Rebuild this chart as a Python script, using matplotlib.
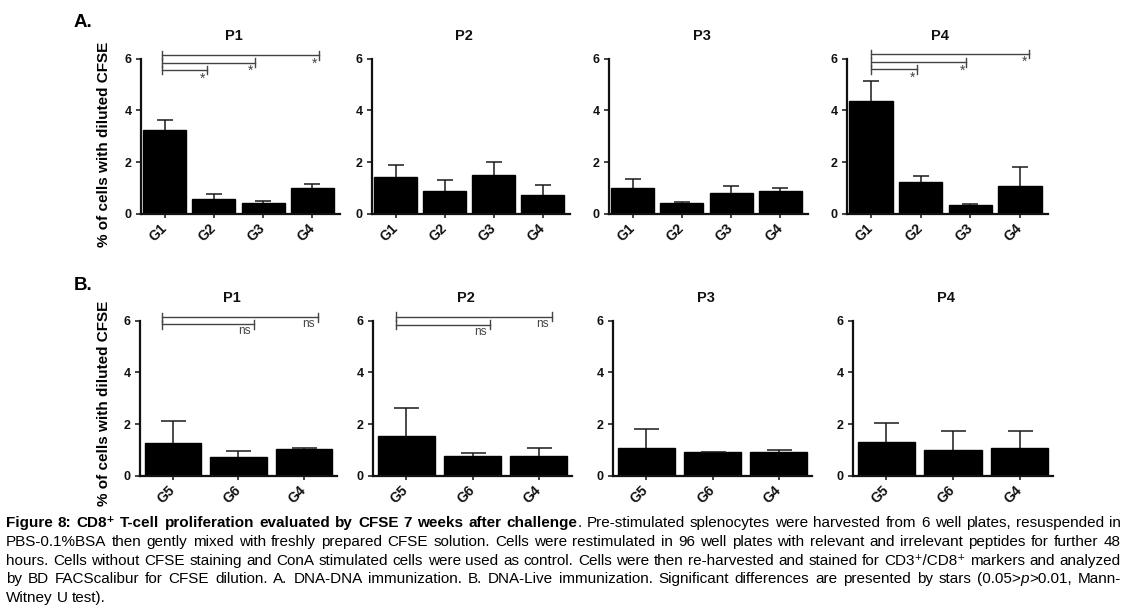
import matplotlib
matplotlib.use("Agg")
import matplotlib.pyplot as plt
from matplotlib import font_manager as fm
from matplotlib.transforms import blended_transform_factory

W, H = 1128, 612

# ---------------- data ----------------
groups_A = ["G1", "G2", "G3", "G4"]
groups_B = ["G5", "G6", "G4"]
panel_titles = ["P1", "P2", "P3", "P4"]

A_P1_mean = [3.24, 0.58, 0.44, 1.02]
A_P1_err = [0.39, 0.20, 0.06, 0.13]
A_P2_mean = [1.44, 0.87, 1.52, 0.72]
A_P2_err = [0.45, 0.46, 0.47, 0.40]
A_P3_mean = [0.99, 0.44, 0.80, 0.88]
A_P3_err = [0.36, 0.03, 0.27, 0.11]
A_P4_mean = [4.37, 1.25, 0.33, 1.09]
A_P4_err = [0.77, 0.21, 0.06, 0.71]

B_P1_mean = [1.26, 0.72, 1.03]
B_P1_err = [0.87, 0.25, 0.07]
B_P2_mean = [1.53, 0.76, 0.76]
B_P2_err = [1.10, 0.14, 0.32]
B_P3_mean = [1.08, 0.92, 0.92]
B_P3_err = [0.72, 0.00, 0.08]
B_P4_mean = [1.31, 1.02, 1.08]
B_P4_err = [0.74, 0.73, 0.67]

y_ticks = [0, 2, 4, 6]
y_label = "% of cells with diluted CFSE"

sig_A_label = "*"
sig_B_label = "ns"

caption_lines = [
    "**Figure 8: CD8\u207a T-cell proliferation evaluated by CFSE 7 weeks after challenge**. Pre-stimulated splenocytes were harvested from 6 well plates, resuspended in",
    "PBS-0.1%BSA then gently mixed with freshly prepared CFSE solution. Cells were restimulated in 96 well plates with relevant and irrelevant peptides for further 48",
    "hours. Cells without CFSE staining and ConA stimulated cells were used as control. Cells were then re-harvested and stained for CD3\u207a/CD8\u207a markers and analyzed",
    "by BD FACScalibur for CFSE dilution. A. DNA-DNA immunization. B. DNA-Live immunization. Significant differences are presented by stars (0.05>_p_>0.01, Mann-",
    "Witney U test).",
]

# ---------------- style ----------------
FONT = ["Liberation Sans", "DejaVu Sans"]
plt.rcParams["font.family"] = FONT


def has_font(name):
    try:
        fm.findfont(fm.FontProperties(family=name), fallback_to_default=False)
        return True
    except Exception:
        return False


CAP_FAMILY = "Liberation Sans Narrow" if has_font("Liberation Sans Narrow") else "Liberation Sans"

fig = plt.figure(figsize=(W / 100, H / 100), dpi=100)

PPU = 25.9
YMAX = 6.35
INK = "#111111"


def make_axes(left_px, width_px, zero_px):
    bottom = (H - zero_px) / H
    height = YMAX * PPU / H
    return fig.add_axes([left_px / W, bottom, width_px / W, height])


def style_axes(ax, groups, xlim, title):
    ax.set_ylim(0, YMAX)
    ax.set_xlim(*xlim)
    for s in ("top", "right"):
        ax.spines[s].set_visible(False)
    for s in ("left", "bottom"):
        ax.spines[s].set_linewidth(1.6)
        ax.spines[s].set_color(INK)
    ax.spines["left"].set_bounds(0, 6)
    ax.set_yticks(y_ticks)
    ax.set_yticklabels([str(t) for t in y_ticks], fontsize=9, fontweight="bold")
    ax.set_xticks(range(len(groups)))
    ax.set_xticklabels(groups, fontsize=10, fontweight="bold", rotation=45,
                       ha="right", va="center", rotation_mode="anchor")
    ax.tick_params(axis="y", direction="out", length=3.5, width=1.1, pad=3, colors=INK)
    ax.tick_params(axis="x", direction="out", length=3.0, width=1.1, pad=6, colors=INK)
    ax.patch.set_alpha(0)
    tr = blended_transform_factory(ax.transAxes, ax.transData)
    ax.text(0.465, 6.87, title, transform=tr, ha="center", va="center",
            fontsize=10.5, fontweight="bold", color=INK, clip_on=False)


def draw_bars(ax, means, errs, width, capsize):
    x = list(range(len(means)))
    ax.bar(x, means, width=width, color="black", edgecolor="black", zorder=2)
    _, caps, _ = ax.errorbar(x, means, yerr=[[0] * len(errs), errs], fmt="none",
                             ecolor="#1a1a1a", elinewidth=1.1, capsize=capsize,
                             capthick=1.1, zorder=3)
    # hide the lower caps (they sit on the bar tops)
    for c in caps:
        yd = list(c.get_ydata())
        if all(abs(a - b) < 1e-9 for a, b in zip(yd, means)):
            c.set_visible(False)


def draw_brackets(ax, left_x, items, label, dx_pt, dy_pt, fs):
    tick = 0.17
    col = "#444444"
    for (x1, y) in items:
        ax.plot([left_x, x1], [y, y], color=col, lw=1.0, clip_on=False, zorder=4)
        ax.plot([left_x, left_x], [y - tick, y + tick], color=col, lw=1.0, clip_on=False, zorder=4)
        ax.plot([x1, x1], [y - tick, y + tick], color=col, lw=1.0, clip_on=False, zorder=4)
        ax.annotate(label, xy=(x1, y), xytext=(dx_pt, dy_pt), textcoords="offset points",
                    ha="center", va="center", fontsize=fs, color=col, annotation_clip=False)


# ---------------- panel A ----------------
A_lefts = [141, 372, 609, 847]
A_widths = [199, 198, 199, 201]
A_means = [A_P1_mean, A_P2_mean, A_P3_mean, A_P4_mean]
A_errs = [A_P1_err, A_P2_err, A_P3_err, A_P4_err]
axes_A = []
for i in range(4):
    ax = make_axes(A_lefts[i], A_widths[i], 214)
    draw_bars(ax, A_means[i], A_errs[i], 0.87, 6)
    style_axes(ax, groups_A, (-0.48, 3.56), panel_titles[i])
    axes_A.append(ax)

draw_brackets(axes_A[0], -0.06, [(0.86, 5.56), (1.83, 5.84), (3.13, 6.13)], sig_A_label, -3, -6, 10)
draw_brackets(axes_A[3], 0.0, [(0.93, 5.58), (1.92, 5.86), (3.18, 6.18)], sig_A_label, -3, -6, 10)

# ---------------- panel B ----------------
B_lefts = [140, 373, 613, 853]
B_widths = [197, 199, 199, 200]
B_means = [B_P1_mean, B_P2_mean, B_P3_mean, B_P4_mean]
B_errs = [B_P1_err, B_P2_err, B_P3_err, B_P4_err]
axes_B = []
for i in range(4):
    ax = make_axes(B_lefts[i], B_widths[i], 476)
    draw_bars(ax, B_means[i], B_errs[i], 0.86, 9)
    style_axes(ax, groups_B, (-0.5, 2.5), panel_titles[i])
    axes_B.append(ax)

draw_brackets(axes_B[0], -0.17, [(1.24, 5.85), (2.21, 6.13)], sig_B_label, -7, -5, 8.5)
draw_brackets(axes_B[1], -0.15, [(1.26, 5.84), (2.20, 6.15)], sig_B_label, -7, -5, 8.5)

# ---------------- labels ----------------
fig.text(74 / W, 1 - 27 / H, "A.", fontsize=13.5, fontweight="bold", ha="left", va="baseline")
fig.text(74 / W, 1 - 290 / H, "B.", fontsize=13.5, fontweight="bold", ha="left", va="baseline")
fig.text(104 / W, 1 - 144 / H, y_label, rotation=90, fontsize=11, fontweight="bold",
         ha="center", va="center")
fig.text(104 / W, 1 - 403 / H, y_label, rotation=90, fontsize=11, fontweight="bold",
         ha="center", va="center")

# ---------------- caption (justified) ----------------


def parse(line):
    words, cur, buf = [], [], ""
    bold = ital = False
    i = 0

    def flush():
        nonlocal buf
        if buf:
            cur.append((buf, bold, ital))
            buf = ""

    while i < len(line):
        if line.startswith("**", i):
            flush(); bold = not bold; i += 2; continue
        c = line[i]
        if c == "_":
            flush(); ital = not ital; i += 1; continue
        if c == " ":
            flush()
            if cur:
                words.append(cur)
                cur = []
            i += 1
            continue
        buf += c
        i += 1
    flush()
    if cur:
        words.append(cur)
    return words


renderer = fig.canvas.get_renderer()


def fprop(size, b, it):
    return fm.FontProperties(family=[CAP_FAMILY, "DejaVu Sans"], size=size,
                             weight="bold" if b else "normal",
                             style="italic" if it else "normal")


def tw(s, fp):
    return renderer.get_text_width_height_descent(s, fp, ismath=False)[0]


def word_width(word, size):
    return sum(tw(t, fprop(size, b, it)) for (t, b, it) in word)


def space_width(size):
    fp = fprop(size, False, False)
    return tw("a a", fp) - tw("aa", fp)


X0, X1 = 6, 1121
target = X1 - X0
parsed = [parse(l) for l in caption_lines]
base = 10.0
nat = []
for words in parsed[:-1]:
    nat.append(sum(word_width(w, base) for w in words) + (len(words) - 1) * space_width(base))
size = base * target / max(nat) * 0.995

for li, words in enumerate(parsed):
    baseline = 527 + 18.8 * li
    widths = [word_width(w, size) for w in words]
    if li < len(parsed) - 1 and len(words) > 1:
        gap = (target - sum(widths)) / (len(words) - 1)
    else:
        gap = space_width(size)
    x = X0
    for w, wd in zip(words, widths):
        xx = x
        for (t, b, it) in w:
            fp = fprop(size, b, it)
            fig.text(xx / W, 1 - baseline / H, t, fontproperties=fp, ha="left", va="baseline",
                     color="black")
            xx += tw(t, fp)
        x += wd + gap

fig.savefig("out.png", dpi=100)
